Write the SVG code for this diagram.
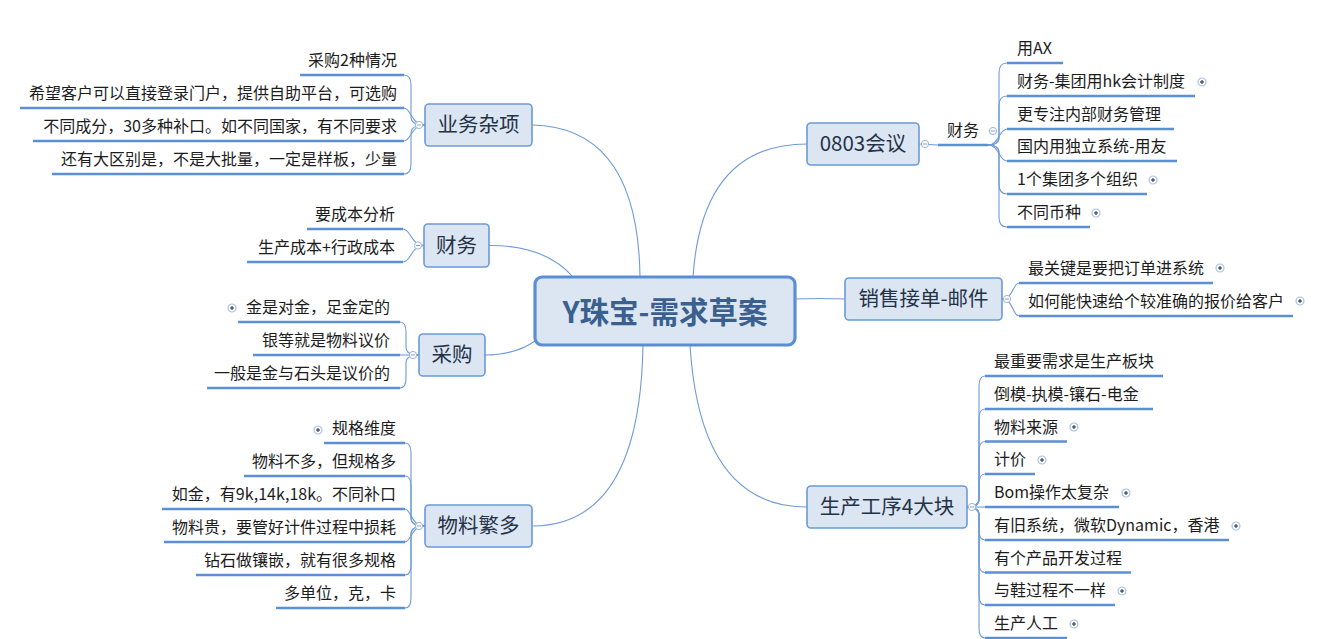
<svg xmlns="http://www.w3.org/2000/svg" width="1334" height="639" viewBox="0 0 1334 639">
<style>
text{font-family:"Noto Sans CJK SC","Noto Sans",sans-serif;fill:#1c1c1c}
.t{font-size:16px}
.r{text-anchor:end}
.b1{fill:#dce6f2;stroke:#6a9ad8;stroke-width:1.6}
.t1{font-size:20.5px;text-anchor:middle;fill:#243248}
.ul{stroke:#5b8fd6;stroke-width:2.6;fill:none}
.cn{stroke:#6f9bd9;stroke-width:1.1;fill:none}
.mc{fill:#fff;stroke:#9db3d6;stroke-width:1}
.mm{stroke:#8aa0c4;stroke-width:1}
.pc{fill:#fff;stroke:#a9c2ea;stroke-width:1.2}
.pp{stroke:#2a3550;stroke-width:1.1}
</style>
<defs>
<g id="minus"><circle class="mc" r="3.6"/><line class="mm" x1="-2" y1="0" x2="2" y2="0"/></g>
<g id="plus"><circle class="pc" r="4"/><line class="pp" x1="-2" y1="0" x2="2" y2="0"/><line class="pp" x1="0" y1="-2" x2="0" y2="2"/></g>
</defs>
<rect width="1334" height="639" fill="#fff"/>
<g id="connectors">
<path class="cn" d="M640 277 Q638 127 532 125"/>
<path class="cn" d="M573 277 Q545 245 489 245.5"/>
<path class="cn" d="M535 341 Q515 355 485 355"/>
<path class="cn" d="M643 345 Q640 526 532 526"/>
<path class="cn" d="M693 277 Q702 144 807 144"/>
<path class="cn" d="M795 299 Q820 298 845 299"/>
<path class="cn" d="M690 345 Q700 507 807 507"/>
<path class="cn" d="M919 144 L938 145"/>
<path class="cn" d="M425 125 Q411 125 411 117 L411 85 Q411 75 404 75"/>
<path class="cn" d="M425 125 C411 125 411 108 404 108"/>
<path class="cn" d="M425 125 C411 125 411 141 404 141"/>
<path class="cn" d="M425 125 Q411 125 411 133 L411 164 Q411 174 404 174"/>
<path class="cn" d="M424 245.5 C411 245.5 411 229 403 229"/>
<path class="cn" d="M424 245.5 C411 245.5 411 262 403 262"/>
<path class="cn" d="M419 355 Q406 355 406 347 L406 332 Q406 322 400 322"/>
<path class="cn" d="M419 355 L400 355"/>
<path class="cn" d="M419 355 Q406 355 406 363 L406 378 Q406 388 400 388"/>
<path class="cn" d="M425 526 Q411 526 411 518 L411 453 Q411 443 405 443"/>
<path class="cn" d="M425 526 Q411 526 411 518 L411 486 Q411 476 405 476"/>
<path class="cn" d="M425 526 C411 526 411 509 405 509"/>
<path class="cn" d="M425 526 C411 526 411 542 405 542"/>
<path class="cn" d="M425 526 Q411 526 411 534 L411 565 Q411 575 405 575"/>
<path class="cn" d="M425 526 Q411 526 411 534 L411 598 Q411 608 405 608"/>
<path class="cn" d="M988 145 Q999 145 999 137 L999 73 Q999 63 1007 63"/>
<path class="cn" d="M988 145 Q999 145 999 137 L999 106 Q999 96 1007 96"/>
<path class="cn" d="M988 145 C999 145 999 129 1007 129"/>
<path class="cn" d="M988 145 C999 145 999 161 1007 161"/>
<path class="cn" d="M988 145 Q999 145 999 153 L999 184 Q999 194 1007 194"/>
<path class="cn" d="M988 145 Q999 145 999 153 L999 217 Q999 227 1007 227"/>
<path class="cn" d="M1002 299 C1013 299 1013 283 1019 283"/>
<path class="cn" d="M1002 299 C1013 299 1013 316 1019 316"/>
<path class="cn" d="M967 507 Q979 507 979 499 L979 386 Q979 376 985 376"/>
<path class="cn" d="M967 507 Q979 507 979 499 L979 419 Q979 409 985 409"/>
<path class="cn" d="M967 507 Q979 507 979 499 L979 451.5 Q979 441.5 985 441.5"/>
<path class="cn" d="M967 507 Q979 507 979 499 L979 484 Q979 474 985 474"/>
<path class="cn" d="M967 507 L985 507"/>
<path class="cn" d="M967 507 Q979 507 979 515 L979 530 Q979 540 985 540"/>
<path class="cn" d="M967 507 Q979 507 979 515 L979 562.5 Q979 572.5 985 572.5"/>
<path class="cn" d="M967 507 Q979 507 979 515 L979 595 Q979 605 985 605"/>
<path class="cn" d="M967 507 Q979 507 979 515 L979 628 Q979 638 985 638"/>
</g>

<g id="central">
<rect x="535" y="277" width="260" height="68" rx="7" fill="#dce6f2" stroke="#5b8ed6" stroke-width="3.2"/>
<text x="665" y="322.5" text-anchor="middle" font-size="29.5" font-weight="bold" style="fill:#3b5f8e">Y珠宝-需求草案</text>
</g>

<g id="n-yewu">
<rect class="b1" x="425" y="104" width="107" height="42" rx="4"/>
<text class="t1" x="478.5" y="132">业务杂项</text>
<use href="#minus" x="419" y="125"/>
</g>
<g id="n-yewu-1"><line class="ul" x1="300" y1="75" x2="404" y2="75"/><text class="t r" x="397" y="66">采购2种情况</text></g>
<g id="n-yewu-2"><line class="ul" x1="20" y1="108" x2="404" y2="108"/><text class="t r" x="397" y="99">希望客户可以直接登录门户，提供自助平台，可选购</text></g>
<g id="n-yewu-3"><line class="ul" x1="33" y1="141" x2="404" y2="141"/><text class="t r" x="397" y="132">不同成分，30多种补口。如不同国家，有不同要求</text></g>
<g id="n-yewu-4"><line class="ul" x1="52" y1="174" x2="404" y2="174"/><text class="t r" x="397" y="165">还有大区别是，不是大批量，一定是样板，少量</text></g>

<g id="n-caiwu">
<rect class="b1" x="424" y="224" width="65" height="43" rx="4"/>
<text class="t1" x="456.5" y="252.5">财务</text>
<use href="#minus" x="418" y="245.5"/>
</g>
<g id="n-caiwu-1"><line class="ul" x1="307" y1="229" x2="403" y2="229"/><text class="t r" x="395" y="220">要成本分析</text></g>
<g id="n-caiwu-2"><line class="ul" x1="247" y1="262" x2="403" y2="262"/><text class="t r" x="395" y="253">生产成本+行政成本</text></g>

<g id="n-caigou">
<rect class="b1" x="419" y="334" width="66" height="42" rx="4"/>
<text class="t1" x="452" y="362">采购</text>
<use href="#minus" x="413" y="355"/>
</g>
<g id="n-caigou-1"><line class="ul" x1="238" y1="322" x2="400" y2="322"/><text class="t r" x="390" y="313">金是对金，足金定的</text><use href="#plus" x="232" y="308"/></g>
<g id="n-caigou-2"><line class="ul" x1="253" y1="355" x2="400" y2="355"/><text class="t r" x="390" y="346">银等就是物料议价</text></g>
<g id="n-caigou-3"><line class="ul" x1="207" y1="388" x2="400" y2="388"/><text class="t r" x="390" y="379">一般是金与石头是议价的</text></g>

<g id="n-wuliao">
<rect class="b1" x="425" y="505" width="107" height="42" rx="4"/>
<text class="t1" x="478.5" y="533">物料繁多</text>
<use href="#minus" x="419" y="526"/>
</g>
<g id="n-wuliao-1"><line class="ul" x1="324" y1="443" x2="405" y2="443"/><text class="t r" x="396" y="434">规格维度</text><use href="#plus" x="318" y="430"/></g>
<g id="n-wuliao-2"><line class="ul" x1="244" y1="476" x2="405" y2="476"/><text class="t r" x="396" y="467">物料不多，但规格多</text></g>
<g id="n-wuliao-3"><line class="ul" x1="162" y1="509" x2="405" y2="509"/><text class="t r" x="396" y="500">如金，有9k,14k,18k。不同补口</text></g>
<g id="n-wuliao-4"><line class="ul" x1="164" y1="542" x2="405" y2="542"/><text class="t r" x="396" y="533">物料贵，要管好计件过程中损耗</text></g>
<g id="n-wuliao-5"><line class="ul" x1="196" y1="575" x2="405" y2="575"/><text class="t r" x="396" y="566">钻石做镶嵌，就有很多规格</text></g>
<g id="n-wuliao-6"><line class="ul" x1="276" y1="608" x2="405" y2="608"/><text class="t r" x="396" y="599">多单位，克，卡</text></g>

<g id="n-0803">
<rect class="b1" x="807" y="123" width="112" height="42" rx="4"/>
<text class="t1" x="863" y="151">0803会议</text>
<use href="#minus" x="925" y="144"/>
</g>
<g id="n-0803-caiwu"><line class="ul" x1="938" y1="145" x2="988" y2="145"/><text class="t" x="947" y="136">财务</text><use href="#minus" x="993" y="131"/></g>
<g id="n-cw-1"><line class="ul" x1="1007" y1="63" x2="1063" y2="63"/><text class="t" x="1017" y="54">用AX</text></g>
<g id="n-cw-2"><line class="ul" x1="1007" y1="96" x2="1195" y2="96"/><text class="t" x="1017" y="87">财务-集团用hk会计制度</text><use href="#plus" x="1202" y="82"/></g>
<g id="n-cw-3"><line class="ul" x1="1007" y1="129" x2="1174" y2="129"/><text class="t" x="1017" y="120">更专注内部财务管理</text></g>
<g id="n-cw-4"><line class="ul" x1="1007" y1="161" x2="1177" y2="161"/><text class="t" x="1017" y="152">国内用独立系统-用友</text></g>
<g id="n-cw-5"><line class="ul" x1="1007" y1="194" x2="1147" y2="194"/><text class="t" x="1017" y="185">1个集团多个组织</text><use href="#plus" x="1153" y="180"/></g>
<g id="n-cw-6"><line class="ul" x1="1007" y1="227" x2="1090" y2="227"/><text class="t" x="1017" y="218">不同币种</text><use href="#plus" x="1096" y="213"/></g>

<g id="n-xiaoshou">
<rect class="b1" x="845" y="278" width="157" height="42" rx="4"/>
<text class="t1" x="923.5" y="306">销售接单-邮件</text>
<use href="#minus" x="1007" y="299"/>
</g>
<g id="n-xs-1"><line class="ul" x1="1019" y1="283" x2="1213" y2="283"/><text class="t" x="1028" y="274">最关键是要把订单进系统</text><use href="#plus" x="1220" y="268"/></g>
<g id="n-xs-2"><line class="ul" x1="1019" y1="316" x2="1293" y2="316"/><text class="t" x="1028" y="307">如何能快速给个较准确的报价给客户</text><use href="#plus" x="1300" y="301"/></g>

<g id="n-shengchan">
<rect class="b1" x="807" y="486" width="160" height="42" rx="4"/>
<text class="t1" x="887" y="514">生产工序4大块</text>
<use href="#minus" x="972" y="507"/>
</g>
<g id="n-sc-1"><line class="ul" x1="985" y1="376" x2="1163" y2="376"/><text class="t" x="994" y="367">最重要需求是生产板块</text></g>
<g id="n-sc-2"><line class="ul" x1="985" y1="409" x2="1153" y2="409"/><text class="t" x="994" y="400">倒模-执模-镶石-电金</text></g>
<g id="n-sc-3"><line class="ul" x1="985" y1="441.5" x2="1067" y2="441.5"/><text class="t" x="994" y="432.5">物料来源</text><use href="#plus" x="1074" y="427"/></g>
<g id="n-sc-4"><line class="ul" x1="985" y1="474" x2="1035" y2="474"/><text class="t" x="994" y="465">计价</text><use href="#plus" x="1042" y="460"/></g>
<g id="n-sc-5"><line class="ul" x1="985" y1="507" x2="1119" y2="507"/><text class="t" x="994" y="498">Bom操作太复杂</text><use href="#plus" x="1126" y="493"/></g>
<g id="n-sc-6"><line class="ul" x1="985" y1="540" x2="1229" y2="540"/><text class="t" x="994" y="531">有旧系统，微软Dynamic，香港</text><use href="#plus" x="1236" y="526"/></g>
<g id="n-sc-7"><line class="ul" x1="985" y1="572.5" x2="1131" y2="572.5"/><text class="t" x="994" y="563.5">有个产品开发过程</text></g>
<g id="n-sc-8"><line class="ul" x1="985" y1="605" x2="1115" y2="605"/><text class="t" x="994" y="596">与鞋过程不一样</text><use href="#plus" x="1122" y="591"/></g>
<g id="n-sc-9"><line class="ul" x1="985" y1="638" x2="1067" y2="638"/><text class="t" x="994" y="629">生产人工</text><use href="#plus" x="1074" y="624"/></g>
</svg>
